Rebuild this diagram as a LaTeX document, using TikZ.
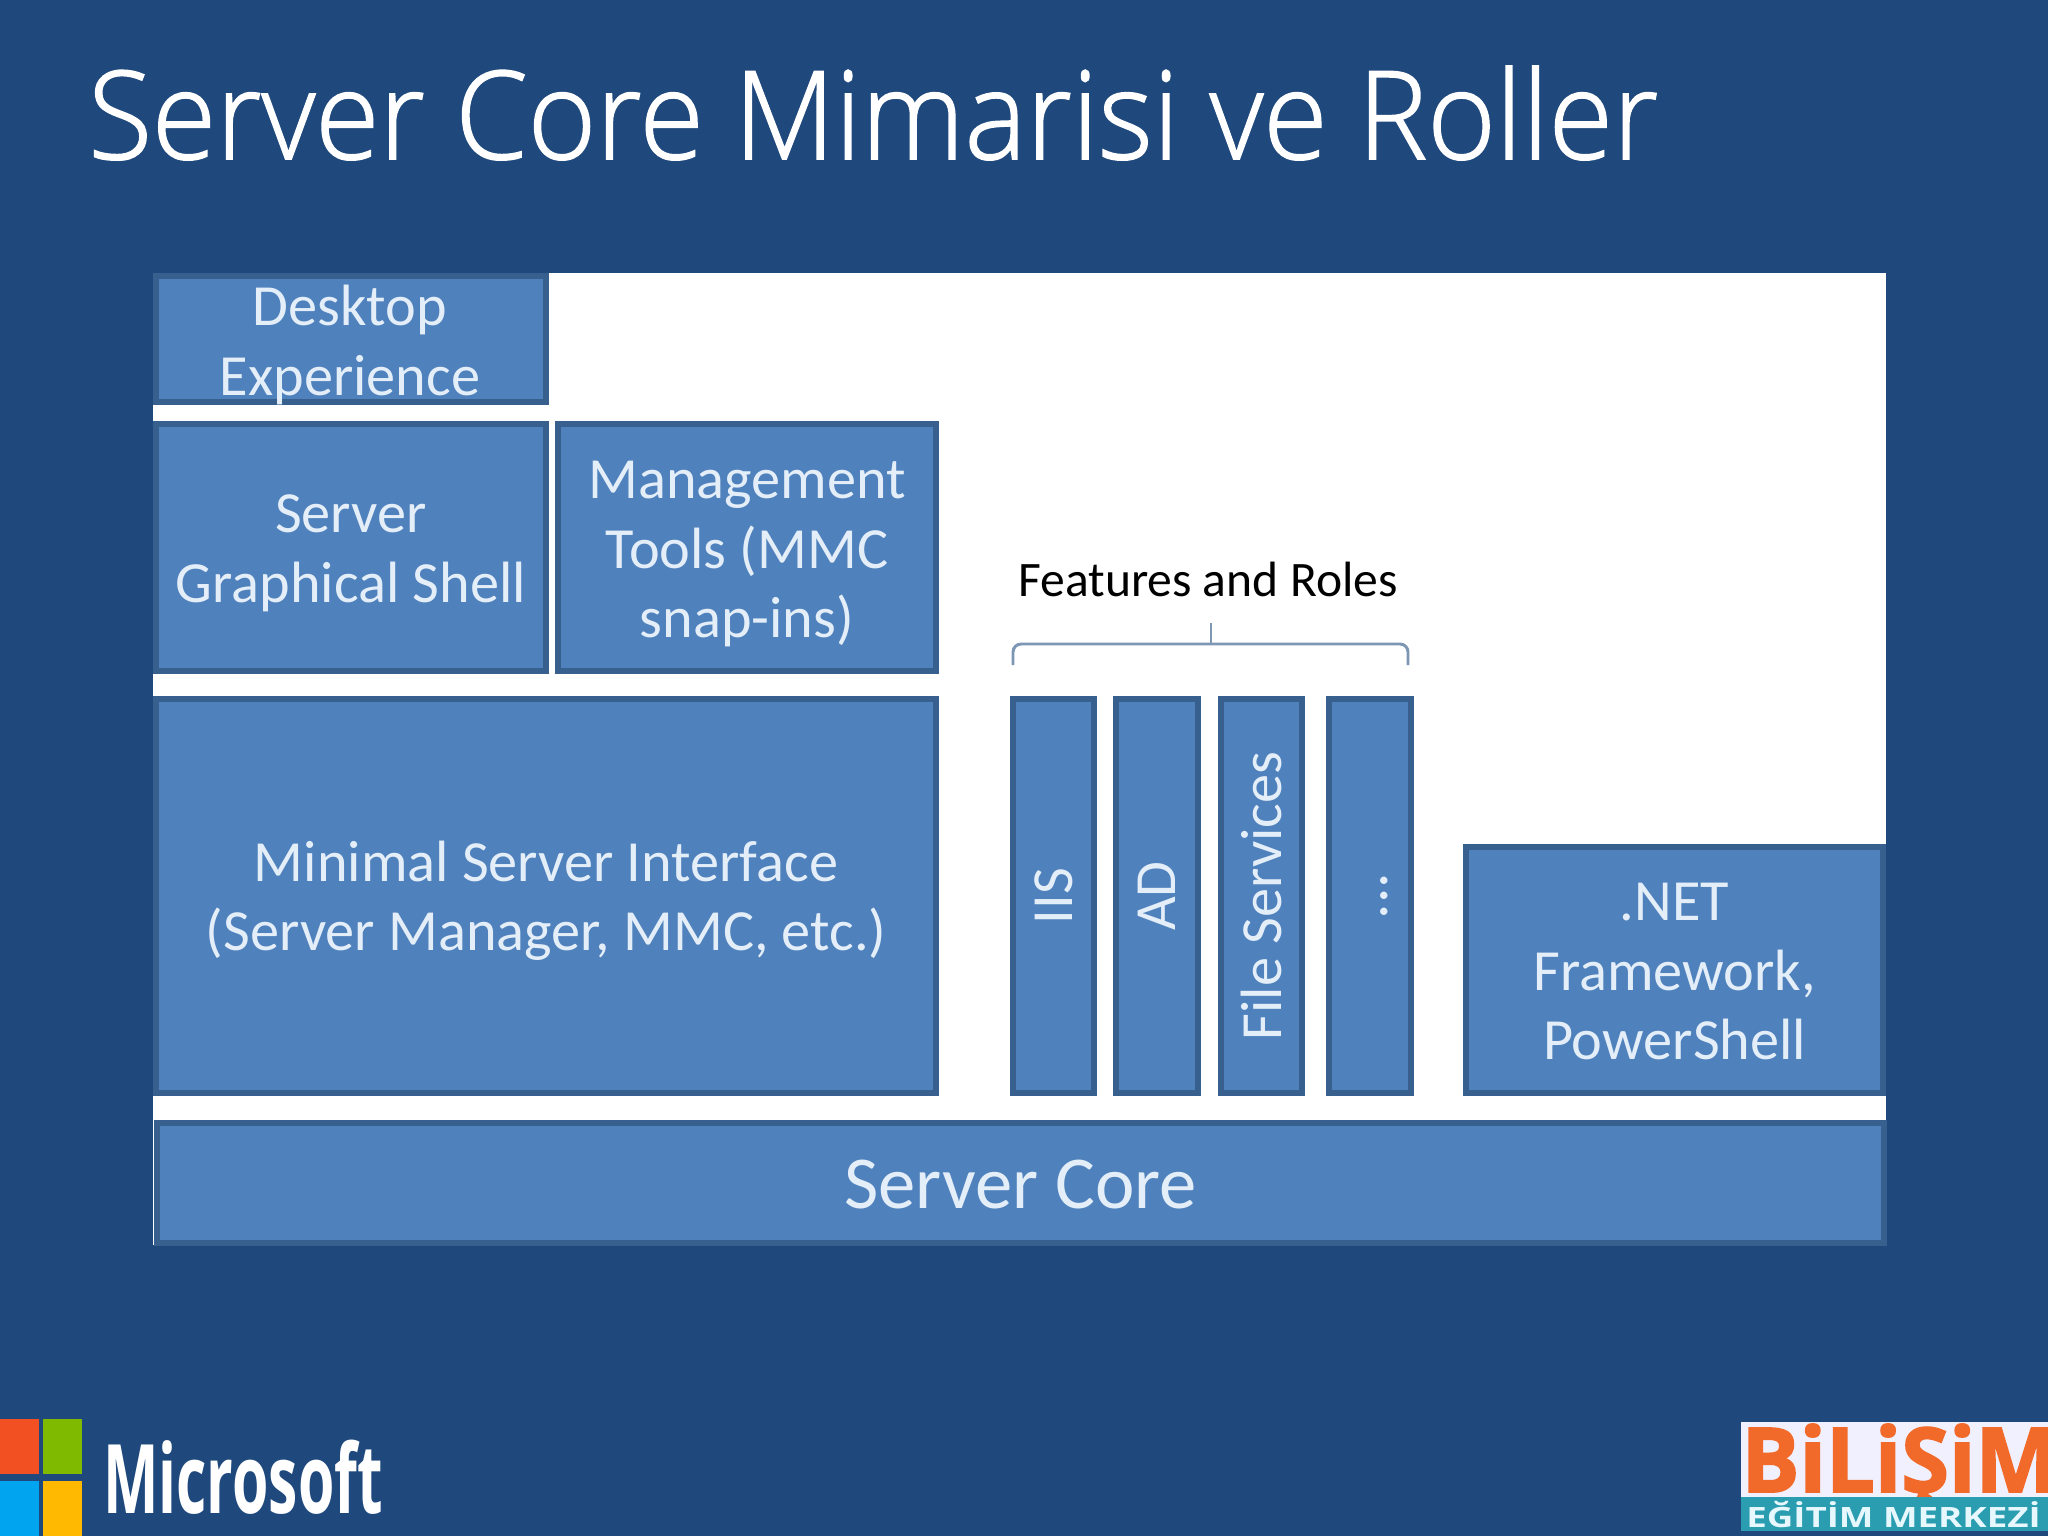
\documentclass[tikz,border=0pt]{standalone}
\usepackage{fontspec}
\setmainfont{Carlito}
\newfontfamily\titlefont{Open Sans Light}[RawFeature={embolden=1.3}]
\newfontfamily\logofont{Open Sans}
\newfontfamily\logoheavy{Open Sans Bold}[RawFeature={embolden=2}]
\definecolor{bgblue}{HTML}{1F497D}
\definecolor{boxfill}{HTML}{4F81BD}
\definecolor{boxline}{HTML}{38608F}
\definecolor{boxtext}{HTML}{E4EEF8}
\definecolor{bracec}{HTML}{7C96B4}
\definecolor{msred}{HTML}{F25022}
\definecolor{msgreen}{HTML}{7FBA00}
\definecolor{msblue}{HTML}{00A4EF}
\definecolor{msyellow}{HTML}{FFB900}
\definecolor{logoorange}{HTML}{F26A2A}
\definecolor{logoteal}{HTML}{2A9DB0}
\tikzset{
  archbox/.style={draw=boxline,fill=boxfill,line width=4.2pt,inner sep=0pt,outer sep=0pt,anchor=north west},
  boxlabel/.style={text=boxtext,font=\fontsize{43.7}{52}\selectfont,align=center,inner sep=0pt},
}
\newcommand{\archnode}[7]{% name, x0, y0, x1, y1, text, downward text shift (pt)
  \pgfmathsetmacro{\boxw}{(#4-#2)*0.75}\pgfmathsetmacro{\boxh}{(#5-#3)*0.75}
  \node[archbox,minimum width=\boxw pt,minimum height=\boxh pt] (#1) at (#2,#3) {};
  \node[boxlabel] (#1t) at ([yshift=-#7pt]#1.center) {#6};}
\begin{document}
\begin{tikzpicture}[x=0.75pt,y=-0.75pt]
\useasboundingbox (0,0) rectangle (2048,1536);
\fill[bgblue] (0,0) rectangle (2048,1536);
\node[inner sep=0pt,anchor=base west,text=white,font=\titlefont\fontsize{92}{100}\selectfont,xscale=.953] (title) at (88,159) {Server Core Mimarisi ve Roller};
\fill[white] (153,273) rectangle (1886,1245);
\archnode{desktop}{156}{276}{546}{402}{}{0}
\node[boxlabel] (desktopt) at (350,345) {Desktop\\Experience};
\archnode{shell}{156}{424}{546}{671}{Server\\Graphical Shell}{4.4}
\archnode{mgmt}{558}{424}{936}{671}{Management\\Tools (MMC\\snap-ins)}{4.9}
\archnode{minimal}{156}{699}{936}{1093}{Minimal Server Interface\\(Server Manager, MMC, etc.)}{3.4}
\archnode{iis}{1013}{699}{1094}{1093}{}{0}
\archnode{ad}{1116}{699}{1198}{1093}{}{0}
\archnode{file}{1221}{699}{1302}{1093}{}{0}
\archnode{more}{1329}{699}{1411}{1093}{}{0}
\node[boxlabel,rotate=90] (iist) at (iis) {IIS};
\node[boxlabel,rotate=90] (adt) at (ad) {AD};
\node[boxlabel,rotate=90] (filet) at (file) {File Services};
\node[boxlabel,rotate=90,font=\fontsize{46}{50}\selectfont] (moret) at ([xshift=11pt]more.center) {...};
\archnode{net}{1466}{847}{1883}{1093}{.NET\\Framework,\\PowerShell}{1.3}
\archnode{core}{157}{1123}{1884}{1243}{\fontsize{56}{60}\selectfont Server Core}{1.5}
\node[inner sep=0pt,text=black,font=\fontsize{37.2}{44}\selectfont] (feat) at (1208,579) {Features and Roles};
\coordinate (bl) at (1013,665);\coordinate (br) at (1408,665);
\coordinate (bm) at (1211,644);\coordinate (bt) at (1211,623);
\draw[bracec,line width=2.2pt,rounded corners=6pt] (bl) -- (1013,644) -- (1408,644) -- (br);
\draw[bracec,line width=2.2pt] (bm) -- (bt);
% Microsoft logo
\fill[msred] (0,1419) rectangle (39,1474);
\fill[msgreen] (43,1419) rectangle (82,1474);
\fill[msblue] (0,1481) rectangle (39,1536);
\fill[msyellow] (43,1481) rectangle (82,1536);
\node[inner sep=0pt,anchor=base west,text=white,font=\logofont\bfseries\fontsize{72}{80}\selectfont,xscale=.613] (ms) at (103,1513) {Microsoft};
% Bilisim logo
\begin{scope}
\clip (1741,1422) rectangle (2048,1531);
\fill[white!94!blue] (1741,1422) rectangle (2048,1497);
\node[inner sep=0pt,anchor=base west,text=logoorange,font=\logoheavy\fontsize{56}{60}\selectfont,xscale=1.16,yscale=1.2] (bil) at (1741,1492) {BiLiŞiM};
\fill[logoteal] (1741,1497) rectangle (2048,1531);
\node[inner sep=0pt,anchor=base west,text=white!90!cyan,font=\logofont\bfseries\fontsize{21}{24}\selectfont,xscale=1.31] (egi) at (1746,1527) {EĞİTİM MERKEZİ};
\end{scope}
\end{tikzpicture}
\end{document}
